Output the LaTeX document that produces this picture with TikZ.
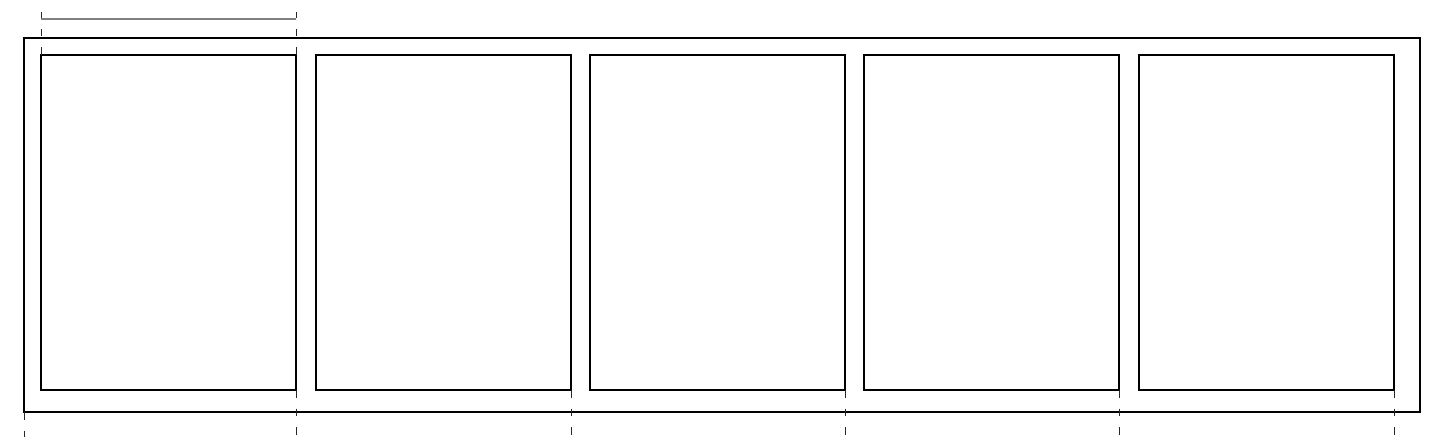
\documentclass[tikz,border=0pt]{standalone}
\usetikzlibrary{calc}
\begin{document}
\begin{tikzpicture}[x=1pt,y=-1pt,
  outerbox/.style={draw=black,line width=2pt,rectangle,minimum width=1396pt,minimum height=374pt,inner sep=0pt,outer sep=0pt},
  panel/.style={draw=black,line width=1.6pt,rectangle,minimum width=255pt,minimum height=335pt,inner sep=0pt,outer sep=0pt},
  guide/.style={draw=black!85,line width=0.9pt,dash pattern=on 7.5pt off 11pt},
  bracket/.style={draw=black!50,line width=1.8pt}]
\useasboundingbox (0,0) rectangle (1440,444);
\node[outerbox] (outer) at (722,225) {};
\node[panel] (p1) at (168.5,222.5) {};
\node[panel] (p2) at (443.5,222.5) {};
\node[panel] (p3) at (717.5,222.5) {};
\node[panel] (p4) at (991.5,222.5) {};
\node[panel] (p5) at (1266.5,222.5) {};
% top guides
\coordinate (t1) at (41,12);
\coordinate (t2) at (296,12);
\coordinate (k1) at (41,19);
\coordinate (k2) at (296,19);
\draw[guide] (p1.north west) -- (t1);
\draw[guide] (p1.north east) -- (t2);
\draw[bracket] (k1) -- (k2);
% bottom guides
\coordinate (g0) at (24,437);
\coordinate (g1) at (296,437);
\coordinate (g2) at (571,437);
\coordinate (g3) at (845,437);
\coordinate (g4) at (1119,437);
\coordinate (g5) at (1394,437);
\draw[guide] (outer.south west) -- (g0);
\draw[guide] (p1.south east) -- (g1);
\draw[guide] (p2.south east) -- (g2);
\draw[guide] (p3.south east) -- (g3);
\draw[guide] (p4.south east) -- (g4);
\draw[guide] (p5.south east) -- (g5);
\end{tikzpicture}
\end{document}
